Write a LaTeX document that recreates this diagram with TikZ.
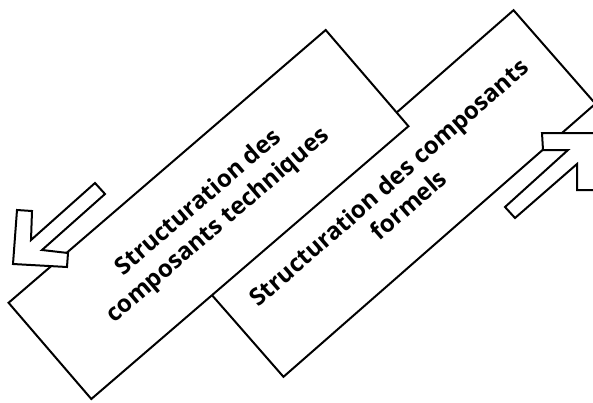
\documentclass[tikz,border=0pt]{standalone}
\usepackage{fontspec}
\setmainfont{Open Sans}
\begin{document}
\begin{tikzpicture}[x=1pt,y=-1pt,
  panel/.style={draw=black, fill=white, line width=2pt, align=center,
    inner sep=0pt, outer sep=0pt, font=\fontsize{24}{30}\selectfont\bfseries},
  hollowarrow/.style={draw=black, fill=white, line width=2pt, line join=miter}]
\useasboundingbox (0,0) rectangle (593,402);
\clip (0,0) rectangle (593,402);
\fill[white] (0,0) rectangle (593,402);
% back panel
\node[panel, rotate=41.2, minimum width=414.6pt, minimum height=124.3pt]
  (formels) at (398.5,193.5) {Structuration des composants\\formels};
% front panel
\node[panel, rotate=40.7, minimum width=418.3pt, minimum height=126.9pt]
  (techniques) at (208.5,214.5) {Structuration des\\composants techniques};
% left arrow
\coordinate (a1) at (95,183); \coordinate (a2) at (31,240);
\coordinate (a3) at (32,211); \coordinate (a4) at (17,210);
\coordinate (a5) at (13,264); \coordinate (a6) at (67,267);
\coordinate (a7) at (68,253); \coordinate (a8) at (42,250);
\coordinate (a9) at (105,194);
\draw[hollowarrow] (a1) -- (a2) -- (a3) -- (a4) -- (a5) -- (a6) -- (a7) -- (a8) -- (a9) -- cycle;
% right arrow
\coordinate (b1) at (505,207); \coordinate (b2) at (568,150);
\coordinate (b3) at (543,150); \coordinate (b4) at (542,133);
\coordinate (b5) at (597,133); \coordinate (b6) at (597,190);
\coordinate (b7) at (577,190); \coordinate (b8) at (577,164);
\coordinate (b9) at (515,218);
\draw[hollowarrow] (b1) -- (b2) -- (b3) -- (b4) -- (b5) -- (b6) -- (b7) -- (b8) -- (b9) -- cycle;
\end{tikzpicture}
\end{document}
